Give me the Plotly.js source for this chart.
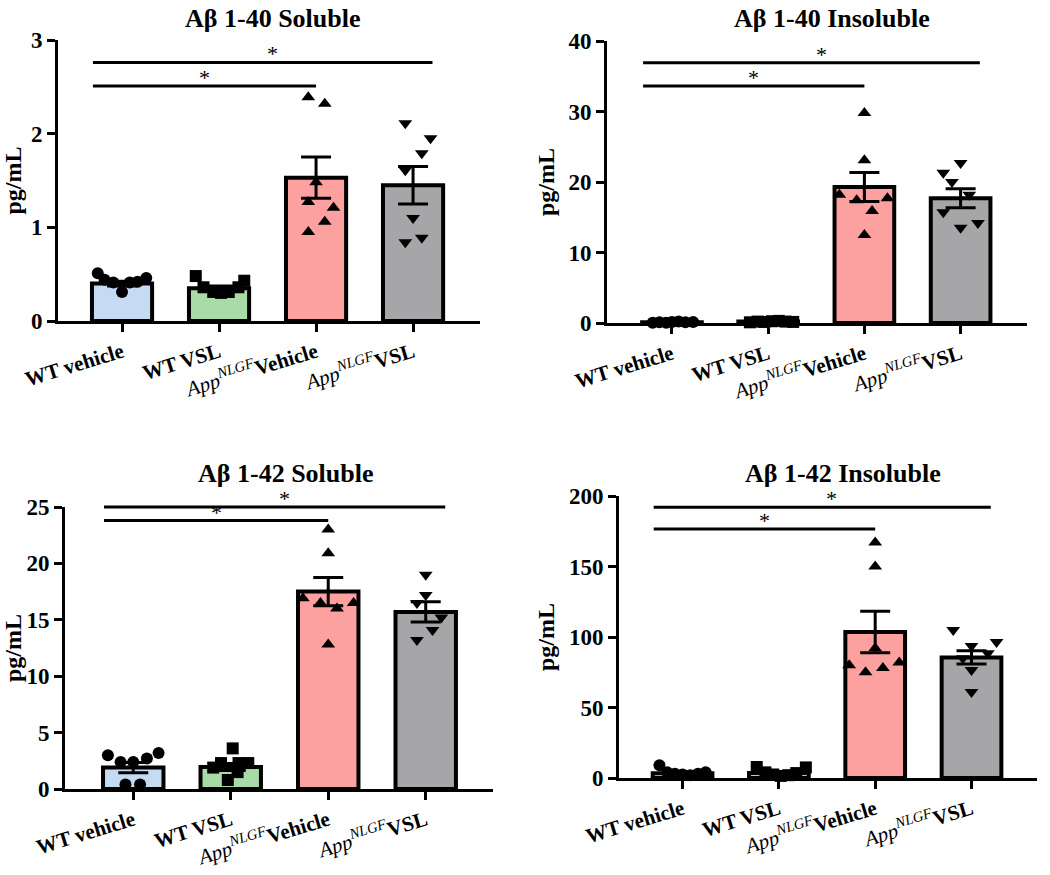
<!DOCTYPE html>
<html>
<head>
<meta charset="utf-8">
<script src="https://cdn.plot.ly/plotly-3.0.1.min.js"></script>
<style>html,body{margin:0;padding:0;background:#fff;}#chart{width:1050px;height:875px;}</style>
</head>
<body>
<div id="chart"></div>
<script>
// ---------------- DATA ----------------
const categories = ['WT vehicle', 'WT VSL', 'AppNLGF Vehicle', 'AppNLGF VSL'];
const APP = '<span style="font-weight:normal;font-style:italic">App<sup>NLGF</sup></span>';
const tickLabels = ['WT vehicle', 'WT VSL', APP + 'Vehicle', APP + 'VSL'];
const panelTitles = ['Aβ 1-40 Soluble', 'Aβ 1-40 Insoluble', 'Aβ 1-42 Soluble', 'Aβ 1-42 Insoluble'];
const yUnit = 'pg/mL';

// Aβ 1-40 Soluble
const ab40SolWTVeh  = [0.51, 0.44, 0.41, 0.31, 0.41, 0.42, 0.46];
const ab40SolWTVSL  = [0.48, 0.36, 0.31, 0.30, 0.31, 0.36, 0.43];
const ab40SolAppVeh = [2.39, 2.32, 1.48, 1.27, 1.21, 1.06, 0.95];
const ab40SolAppVSL = [2.11, 1.95, 1.79, 1.61, 1.10, 0.84, 0.89];
const ab40SolMean   = [0.40, 0.35, 1.53, 1.45];
const ab40SolSem    = [0.025, 0.025, 0.22, 0.20];

// Aβ 1-40 Insoluble
const ab40InsWTVeh  = [0.05, 0.10, 0.05, 0.15, 0.20, 0.10, 0.15];
const ab40InsWTVSL  = [0.10, 0.20, 0.15, 0.25, 0.30, 0.20, 0.15];
const ab40InsAppVeh = [29.8, 23.1, 18.2, 17.4, 17.7, 15.9, 12.5];
const ab40InsAppVSL = [22.7, 21.3, 20.0, 18.2, 15.7, 13.5, 14.2];
const ab40InsMean   = [0.12, 0.20, 19.3, 17.7];
const ab40InsSem    = [0.03, 0.04, 2.05, 1.35];

// Aβ 1-42 Soluble
const ab42SolWTVeh  = [3.0, 2.4, 2.4, 2.7, 3.2, 0.4, 0.4];
const ab42SolWTVSL  = [3.6, 2.3, 2.3, 2.3, 1.9, 0.8, 1.5];
const ab42SolAppVeh = [23.0, 20.9, 16.9, 16.5, 16.0, 16.5, 12.8];
const ab42SolAppVSL = [19.0, 17.2, 16.5, 15.2, 13.2, 14.1];
const ab42SolMean   = [1.9, 1.95, 17.5, 15.7];
const ab42SolSem    = [0.45, 0.3, 1.25, 0.9];

// Aβ 1-42 Insoluble
const ab42InsWTVeh  = [9.0, 4.0, 3.0, 2.5, 2.0, 3.0, 4.0];
const ab42InsWTVSL  = [7.8, 4.0, 2.5, 1.5, 2.0, 3.5, 7.5];
const ab42InsAppVeh = [167, 150, 92, 80, 75, 78, 82];
const ab42InsAppVSL = [105, 93.6, 96.5, 88.5, 85, 76.6, 61];
const ab42InsMean   = [3.3, 3.5, 103.5, 85.5];
const ab42InsSem    = [0.9, 1.0, 14.7, 4.7];

// ---------------- LAYOUT / STYLE ----------------
const barColors = ['#c5daf3', '#a8dba5', '#fca1a0', '#a6a6a9'];
const symbols = ['circle', 'square', 'triangle-up', 'triangle-down'];
const FONT = '"Liberation Serif", "Times New Roman", Times, serif';

// horizontal placement of dots inside each bar (category units)
const spreadA = [[-0.25,-0.18,-0.09,0,0.08,0.16,0.25],[-0.24,-0.16,-0.06,0.02,0.1,0.2,0.26],[-0.08,0.09,0,-0.08,0.18,0.09,-0.08],[-0.08,0.18,0.09,-0.08,0,-0.08,0.09]];
const spreadB = [[-0.2,-0.13,-0.06,0,0.07,0.14,0.22],[-0.19,-0.11,-0.04,0.04,0.11,0.18,0.26],[0,0,-0.26,-0.08,0.24,0.08,0],[0,-0.18,-0.09,0.09,-0.18,0,0.18]];
const spreadC = [[-0.26,-0.13,0,0.14,0.26,-0.08,0.07],[0.02,-0.1,0.08,0.18,-0.18,-0.03,0.07],[0,0,-0.26,-0.08,0.09,0.26,0],[0,0,-0.09,0.16,-0.09,0.07]];
const spreadD = [[-0.24,-0.16,-0.08,0,0.08,0.16,0.24],[-0.23,-0.14,-0.06,0.02,0.1,0.18,0.28],[0,0,0,-0.27,-0.1,0.08,0.25],[-0.19,0,0.26,0.17,-0.09,0,0]];

const panels = [
  {pts:[ab40SolWTVeh, ab40SolWTVSL, ab40SolAppVeh, ab40SolAppVSL], mean:ab40SolMean, sem:ab40SolSem, ymax:3, dtick:1, spread:spreadA,
   xdom:[58/1050, 480/1050], ydom:[(875-321)/875, (875-40)/875], xr:[-0.66, 3.69], tx:273/1050, ty:1-18/875,
   sig:[{x0:-0.3, x1:2.0, y:2.51, s:0.85}, {x0:-0.3, x1:3.2, y:2.76, s:1.55}]},
  {pts:[ab40InsWTVeh, ab40InsWTVSL, ab40InsAppVeh, ab40InsAppVSL], mean:ab40InsMean, sem:ab40InsSem, ymax:40, dtick:10, spread:spreadB,
   xdom:[607/1050, 1027/1050], ydom:[(875-323)/875, (875-41)/875], xr:[-0.675, 3.69], tx:832/1050, ty:1-18/875,
   sig:[{x0:-0.3, x1:2.0, y:33.6, s:0.85}, {x0:-0.3, x1:3.2, y:36.9, s:1.55}]},
  {pts:[ab42SolWTVeh, ab42SolWTVSL, ab42SolAppVeh, ab42SolAppVSL], mean:ab42SolMean, sem:ab42SolSem, ymax:25, dtick:5, spread:spreadC,
   xdom:[65/1050, 493/1050], ydom:[(875-789)/875, (875-507)/875], xr:[-0.70, 3.69], tx:286/1050, ty:1-473/875,
   sig:[{x0:-0.3, x1:2.0, y:23.8, s:0.85}, {x0:-0.3, x1:3.2, y:25.0, s:1.55}]},
  {pts:[ab42InsWTVeh, ab42InsWTVSL, ab42InsAppVeh, ab42InsAppVSL], mean:ab42InsMean, sem:ab42InsSem, ymax:200, dtick:50, spread:spreadD,
   xdom:[619/1050, 1037/1050], ydom:[(875-778)/875, (875-496)/875], xr:[-0.66, 3.68], tx:843/1050, ty:1-473/875,
   sig:[{x0:-0.3, x1:2.0, y:176.6, s:0.85}, {x0:-0.3, x1:3.2, y:192, s:1.55}]}
];

const traces = [];
const layout = {
  width:1050, height:875, margin:{l:0, r:0, t:0, b:0},
  paper_bgcolor:'#fff', plot_bgcolor:'rgba(0,0,0,0)', showlegend:false,
  font:{family:FONT, color:'#000'},
  shapes:[], annotations:[]
};

panels.forEach((p, k) => {
  const n = k === 0 ? '' : String(k + 1);
  const xa = 'x' + n, ya = 'y' + n;
  const idx = categories.map((c, i) => i);
  traces.push({
    type:'bar', x:idx, y:p.mean, xaxis:xa, yaxis:ya, width:0.62,
    marker:{color:barColors, line:{color:'#000', width:4}},
    error_y:{type:'data', array:p.sem, visible:true, color:'#000', thickness:3, width:15},
    hoverinfo:'skip'
  });
  p.pts.forEach((vals, g) => {
    traces.push({
      type:'scatter', mode:'markers', xaxis:xa, yaxis:ya, cliponaxis:false,
      x: vals.map((v, j) => g + p.spread[g][j]), y: vals,
      marker:{symbol:symbols[g], color:'#000', size:12, line:{width:0}},
      hoverinfo:'skip'
    });
  });
  layout['xaxis' + n] = {
    domain:p.xdom, anchor:ya, range:p.xr, tickmode:'array', tickvals:idx, ticktext:tickLabels,
    tickangle:-17, ticks:'outside', ticklen:8, tickwidth:3, tickcolor:'#000',
    showline:true, linewidth:3, linecolor:'#000', showgrid:false, zeroline:false,
    tickfont:{family:FONT, size:21, color:'#000', weight:'bold'}, fixedrange:true
  };
  layout['yaxis' + n] = {
    domain:p.ydom, anchor:xa, range:[0, p.ymax], dtick:p.dtick, ticks:'outside', ticklen:8, tickwidth:3, tickcolor:'#000',
    showline:true, linewidth:3, linecolor:'#000', showgrid:false, zeroline:false,
    tickfont:{family:FONT, size:23, color:'#000', weight:'bold'},
    title:{text:yUnit, font:{family:FONT, size:24, color:'#000', weight:'bold'}, standoff:8}, fixedrange:true
  };
  const fx = v => (v - p.xr[0]) / (p.xr[1] - p.xr[0]);
  const fy = v => v / p.ymax;
  p.sig.forEach(s => {
    layout.shapes.push({type:'line', xref:xa + ' domain', yref:ya + ' domain', x0:fx(s.x0), x1:fx(s.x1), y0:fy(s.y), y1:fy(s.y), line:{color:'#000', width:3}});
    layout.annotations.push({xref:xa, yref:ya, x:s.s, y:s.y, text:'*', showarrow:false, yanchor:'bottom', yshift:-6, font:{family:FONT, size:22, color:'#000'}});
  });
  layout.annotations.push({xref:'paper', yref:'paper', x:p.tx, y:p.ty, xanchor:'center', yanchor:'middle', text:panelTitles[k], showarrow:false,
    font:{family:FONT, size:26, color:'#000', weight:'bold'}});
});

Plotly.newPlot('chart', traces, layout, {displayModeBar:false, staticPlot:true});
</script>
</body>
</html>
